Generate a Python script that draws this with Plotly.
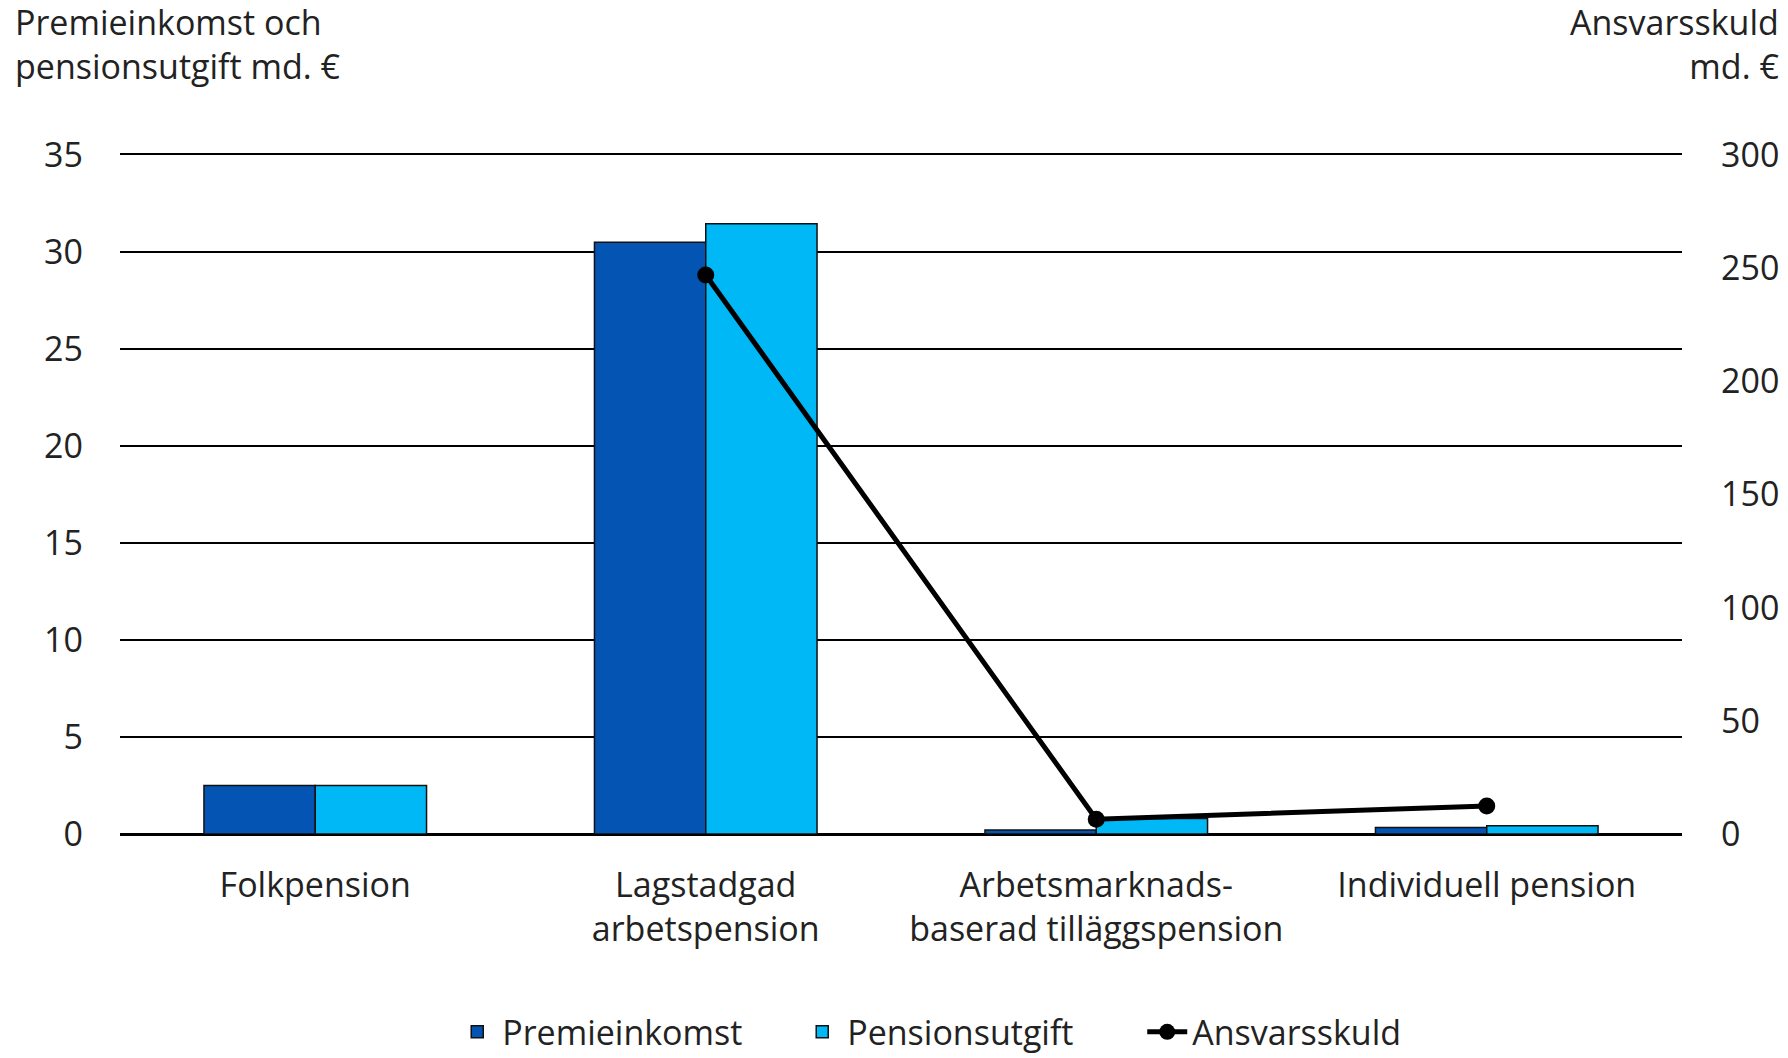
import plotly.graph_objects as go

categories = ["Folkpension", "Lagstadgad<br>arbetspension", "Arbetsmarknads-<br>baserad tilläggspension", "Individuell pension"]
premieinkomst = [2.5, 30.5, 0.2, 0.33]
pensionsutgift = [2.5, 31.45, 0.8, 0.42]
ansvarsskuld = [None, 247, 6.5, 12.4]
left_ticks = [0, 5, 10, 15, 20, 25, 30, 35]
right_ticks = [0, 50, 100, 150, 200, 250, 300]

FONT = "Open Sans"
fs = 34

W, H = 1788, 1058
L, T = 120, 155
PW, PH = 1562, 679
R = W - L - PW
B = H - T - PH

fig = go.Figure()
fig.add_trace(go.Bar(x=categories, y=premieinkomst, name="Premieinkomst",
                     marker=dict(color="#0454B4", line=dict(color="#111111", width=1.5))))
fig.add_trace(go.Bar(x=categories, y=pensionsutgift, name="Pensionsutgift",
                     marker=dict(color="#00B8F6", line=dict(color="#111111", width=1.5))))
fig.add_trace(go.Scatter(x=categories, y=ansvarsskuld, name="Ansvarsskuld", yaxis="y2",
                         mode="lines+markers", line=dict(color="black", width=5),
                         marker=dict(color="black", size=17)))

fig.update_layout(
    width=W, height=H,
    margin=dict(l=L, r=R, t=T, b=B, autoexpand=False),
    paper_bgcolor="white", plot_bgcolor="white",
    font=dict(family=FONT, size=fs, color="#222222"),
    barmode="group", bargap=0.43, bargroupgap=0,
    showlegend=True,
    legend=dict(orientation="h", x=0.544, xanchor="center", y=-0.292, yanchor="middle",
                font=dict(size=fs, family=FONT), traceorder="normal",
                entrywidth=290, itemwidth=40),
    xaxis=dict(showgrid=False, showline=True, linecolor="black", linewidth=2, mirror=True,
               ticks="", ticklabelstandoff=20, tickfont=dict(size=fs), automargin=False),
    yaxis=dict(range=[0, 35], tickvals=left_ticks, showgrid=True, gridcolor="black",
               gridwidth=2, zeroline=True, zerolinecolor="black", zerolinewidth=2,
               showline=False, ticks="", ticklabelstandoff=36, tickfont=dict(size=fs),
               automargin=False),
    yaxis2=dict(range=[0, 300], tickvals=right_ticks, overlaying="y", side="right",
                showgrid=False, zeroline=False, showline=False, ticks="",
                ticklabelstandoff=38, tickfont=dict(size=fs), automargin=False),
    annotations=[
        dict(text="Premieinkomst och<br>pensionsutgift md. €", xref="paper", yref="paper",
             x=(13 - L) / PW, y=1 + (T + 3) / PH, xanchor="left", yanchor="top",
             showarrow=False, align="left", font=dict(size=fs)),
        dict(text="Ansvarsskuld<br>md. €", xref="paper", yref="paper",
             x=(1781 - L) / PW, y=1 + (T + 3) / PH, xanchor="right", yanchor="top",
             showarrow=False, align="right", font=dict(size=fs)),
    ],
)

fig.write_html("out.html", config={"displayModeBar": False},
               post_script="document.body.style.margin='0';document.body.style.overflow='hidden';")
